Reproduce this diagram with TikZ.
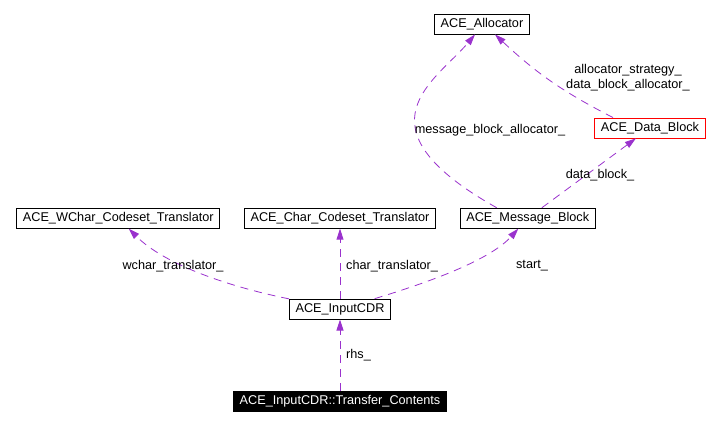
\documentclass[tikz,border=0pt]{standalone}
\usepackage{fontspec}
\setmainfont{Liberation Sans}
\usetikzlibrary{positioning, arrows.meta}
\definecolor{usage}{RGB}{154,50,205}

\begin{document}
\begin{tikzpicture}[x=1pt, y=1pt,
		cls/.style={rectangle, draw, line width=0.9pt, inner xsep=6pt, inner ysep=0pt, minimum height=20pt, font=\fontsize{12.7}{15}\selectfont},
		lbl/.style={font=\fontsize{12.7}{15}\selectfont, inner sep=0pt},
		use/.style={draw=usage, line width=0.8pt, dash pattern=on 8pt off 6pt, -{Triangle[length=11pt, width=7pt]}}]
		\useasboundingbox (0,0) rectangle (721,425);
		
		\node[cls, fill=black, text=white] (tc) at (340,24) {ACE\_InputCDR::Transfer\_Contents};
		\node[cls, above = 71pt of tc] (cdr) {ACE\_InputCDR};
		
		\node[cls, above = 70pt of cdr] (char) {ACE\_Char\_Codeset\_Translator};
		\node[cls, left = 24pt of char] (wchar) {ACE\_WChar\_Codeset\_Translator};
		\node[cls, right = 24pt of char] (msg) {ACE\_Message\_Block};
		
		\node[cls, draw=red] (datablk) at (650,297) {ACE\_Data\_Block};
		\node[cls] (alloc) at (482,401) {ACE\_Allocator};
		
		\draw[use] (tc) -- (cdr);
		\node[lbl, anchor=west] (lrhs) at (346,70) {rhs\_};
		
		\draw[use] (cdr) -- (char);
		\node[lbl, anchor=west] (lchar) at (346,159) {char\_translator\_};
		
		\draw[use] (cdr) .. controls (230,138) and (165,160) .. (wchar);
		\node[lbl] (lwchar) at (173,159) {wchar\_translator\_};
		
		\draw[use] (cdr) .. controls (430,143) and (490,165) .. (msg);
		\node[lbl] (lstart) at (532,159) {start\_};
		
		\draw[use] (msg) -- (datablk);
		\node[lbl] (ldata) at (600,250) {data\_block\_};
		
		\draw[use] ([xshift=-31pt]msg.north) .. controls (351,299) and (437,345) .. ([xshift=-7pt]alloc.south);
		\node[lbl] (lmsgalloc) at (490,295) {message\_block\_allocator\_};
		
		\draw[use] ([xshift=-37pt]datablk.north) to[bend left=8] ([xshift=13pt]alloc.south);
		\node[lbl, align=center] (lalloc) at (628,347) {allocator\_strategy\_\\data\_block\_allocator\_};
		
	\end{tikzpicture}
\end{document}
